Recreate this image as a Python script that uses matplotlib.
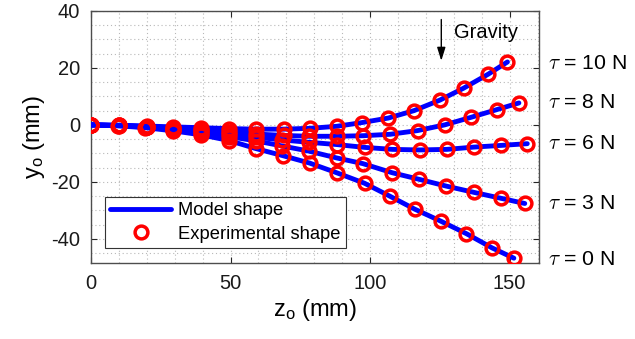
import matplotlib
matplotlib.use("Agg")
import matplotlib.pyplot as plt
import numpy as np

plt.rcParams["font.family"] = ["Liberation Sans", "DejaVu Sans"]
plt.rcParams["mathtext.fontset"] = "custom"
plt.rcParams["mathtext.rm"] = "Liberation Sans"
plt.rcParams["mathtext.it"] = "Liberation Sans:italic"
plt.rcParams["axes.unicode_minus"] = False

# Cable shapes for each tension: axial position z_o and deflection y_o (mm)
tension_labels = ["10", "8", "6", "3", "0"]

z_t10 = [0, 10, 20, 29.5, 39.5, 49.5, 59, 69, 78.5, 88, 97, 106.5, 115.7, 125, 133.5, 142.3, 149.2]
y_t10 = [0, -0.1, -0.4, -0.7, -1.0, -1.3, -1.5, -1.5, -1.2, -0.5, 0.8, 2.4, 5.0, 8.7, 12.9, 17.8, 22.1]

z_t8 = [0, 10, 20, 29.5, 39.5, 49.5, 59, 69, 78, 88, 97.5, 107.2, 117, 126.7, 136.3, 145.5, 153.3]
y_t8 = [0, -0.2, -0.6, -1.1, -1.8, -2.5, -3.2, -3.7, -4.0, -4.0, -3.8, -3.3, -2.0, 0.0, 2.7, 5.4, 7.7]

z_t6 = [0, 10, 20, 29.5, 39.5, 49.5, 59, 68.5, 78, 88, 98, 108, 117.7, 127.5, 137.2, 147, 156.3]
y_t6 = [0, -0.2, -0.7, -1.3, -2.2, -3.2, -4.3, -5.3, -6.1, -6.9, -7.9, -8.6, -8.8, -8.6, -7.8, -7.2, -6.6]

z_t3 = [0, 10, 20, 29.5, 39.5, 49.5, 59, 68.5, 78, 88, 97.4, 107.9, 117.5, 127.3, 137.2, 147, 155.4]
y_t3 = [0, -0.3, -0.8, -1.7, -2.8, -4.1, -5.6, -7.4, -9.2, -11.6, -13.6, -16.8, -19.1, -21.5, -23.7, -25.8, -27.6]

z_t0 = [0, 9.5, 19.5, 29.5, 39.5, 49.5, 59, 68.7, 78.3, 88, 98, 107, 116, 125.3, 134.5, 143.7, 151.5]
y_t0 = [0, -0.3, -1.0, -2.1, -3.5, -5.5, -8.3, -10.8, -13.4, -16.8, -20.5, -25.0, -29.6, -33.8, -38.2, -43.2, -46.8]

curves = [(z_t10, y_t10), (z_t8, y_t8), (z_t6, y_t6), (z_t3, y_t3), (z_t0, y_t0)]

fig = plt.figure(figsize=(6.35, 3.39), dpi=100)
ax = fig.add_axes([0.1433, 0.2242, 0.7055, 0.7434])

blue = (0, 0, 1)
red = (1, 0, 0)

for i, (z, y) in enumerate(curves):
    ax.plot(z, y, color=blue, lw=3.5, solid_capstyle="round", solid_joinstyle="round",
            zorder=3, label="Model shape" if i == 0 else None)
for i, (z, y) in enumerate(curves):
    ax.plot(z, y, ls="none", marker="o", ms=9.2, mfc="none", mec=red, mew=2.5,
            zorder=4, label="Experimental shape" if i == 0 else None)

ax.set_xlim(0, 160.5)
ax.set_ylim(-48.5, 40)
ax.set_xticks([0, 50, 100, 150])
ax.set_yticks([-40, -20, 0, 20, 40])
ax.set_xticks(np.arange(0, 161, 10), minor=True)
ax.set_yticks(np.arange(-45, 41, 5), minor=True)
ax.grid(True, which="both", ls=(0, (1, 2.5)), color=(0.72, 0.72, 0.72), lw=0.8)
ax.set_axisbelow(True)

ax.tick_params(which="major", direction="in", length=4, width=0.8, top=True, right=True,
               labelsize=14.5, colors=(0.15, 0.15, 0.15), pad=8)
ax.tick_params(which="minor", length=0)
for lbl in ax.get_xticklabels() + ax.get_yticklabels():
    lbl.set_color((0.1, 0.1, 0.1))
for s in ax.spines.values():
    s.set_color((0.3, 0.3, 0.3))
    s.set_linewidth(1.0)

ax.set_xlabel("z$_\\mathrm{o}$ (mm)", fontsize=17, labelpad=3)
ax.set_ylabel("y$_\\mathrm{o}$ (mm)", fontsize=17, labelpad=3)

# Tension labels beside the free ends
label_y = [21.6, 8.0, -6.5, -27.5, -47.2]
for t, yl in zip(tension_labels, label_y):
    ax.text(1.021, yl, r"$\tau$ = " + t + " N", transform=ax.get_yaxis_transform(),
            fontsize=15.3, va="center", ha="left", math_fontfamily="cm", clip_on=False)

# Gravity direction
ax.annotate("", xy=(125.5, 22.5), xytext=(125.5, 37.0),
            arrowprops=dict(arrowstyle="-|>,head_length=0.8,head_width=0.25",
                            color="black", lw=1.0, shrinkA=0, shrinkB=0))
ax.text(130.0, 32.3, "Gravity", fontsize=14.5, va="center", ha="left")

leg = ax.legend(loc="lower left", bbox_to_anchor=(0.031, 0.058), fontsize=13.2,
                frameon=True, fancybox=False, edgecolor=(0.2, 0.2, 0.2),
                framealpha=1, borderpad=0.3, labelspacing=0.35, handlelength=3.3,
                handletextpad=0.4, borderaxespad=0)
leg.get_frame().set_linewidth(0.8)

fig.savefig("out.png", dpi=100)
